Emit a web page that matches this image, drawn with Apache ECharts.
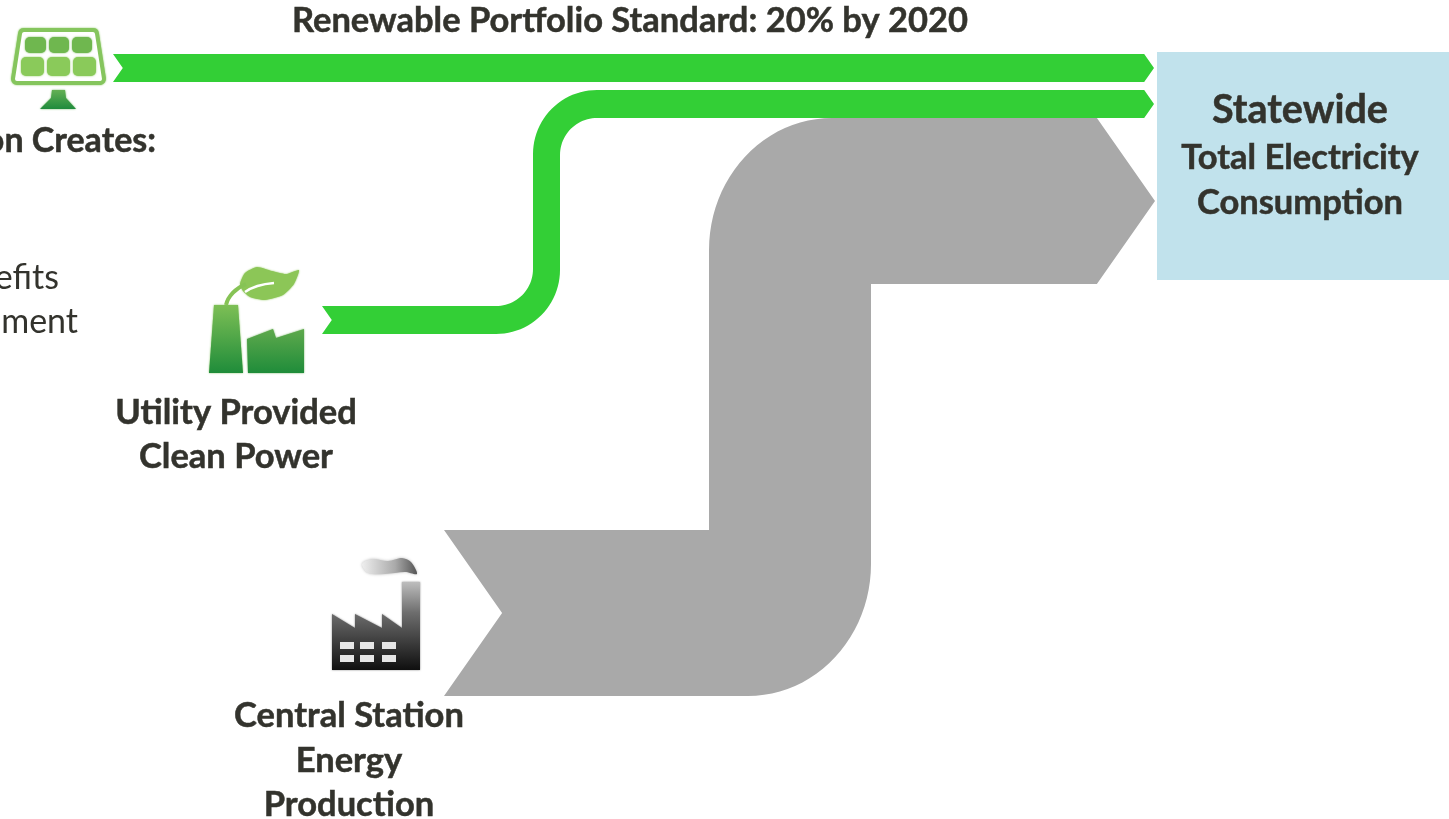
<!DOCTYPE html>
<html>
<head>
<meta charset="utf-8">
<title>Statewide electricity flows</title>
<style>
  html, body { margin: 0; padding: 0; background: #fff; overflow: hidden; }
  #chart { width: 1449px; height: 819px; }
</style>
<script src="https://cdn.jsdelivr.net/npm/echarts@6/dist/echarts.min.js"></script>
</head>
<body>
<div id="chart"></div>
<script>
// 数据
const flowNames = ['Renewable Portfolio Standard', 'Utility Provided Clean Power', 'Central Station Energy Production']
const flowValues = [28, 28, 166]
const targetNames = ['Statewide Total Electricity Consumption']

const titleText = 'Renewable Portfolio Standard: 20% by 2020'
const leftHeading = 'on Creates:'
const leftBody = ['efits', 'ment']
const utilityLines = ['Utility Provided', 'Clean Power']
const centralLines = ['Central Station', 'Energy', 'Production']
const targetLines = ['Statewide', 'Total Electricity', 'Consumption']

// 布局
const FLOW_ROUTES = [
  { sx: 113, sy: 68, ex: 1154, ey: 68 },
  { sx: 322, sy: 320, ex: 1154, ey: 104, tx: 546.5, tw: 27, inner: 37, orx: 64, ory: 64 },
  { sx: 444, sy: 613, ex: 1155, ey: 201, tx: 790, tw: 162, inner: 0, orx: 123, ory: 132 },
]
const FLOW_COLORS = ['#33cf36', '#33cf36', '#a9a9a9']
const TARGET_BOX = { x0: 1157, y0: 52, x1: 1449, y1: 280 }
const TEXT_COLOR = '#33332d'
const FONT = 'Lato'

// 四分之一圆弧取样
function arc(cx, cy, rx, ry, from, to) {
  const pts = []
  if (!rx && !ry) return [[cx, cy]]
  for (let i = 0; i <= 24; i++) {
    const a = (from + (to - from) * i / 24) * Math.PI / 180
    pts.push([cx + rx * Math.cos(a), cy + ry * Math.sin(a)])
  }
  return pts
}

// 流带轮廓（像素单位由坐标轴换算）
function flowOutline(route, w) {
  const head = w * 0.35
  const { sx, sy, ex, ey } = route
  const pts = [[sx, sy - w / 2]]
  if (route.tx !== undefined) {
    const left = route.tx - route.tw / 2
    const right = route.tx + route.tw / 2
    const i = route.inner
    pts.push(...arc(left - i, sy - w / 2 - i, i, i, 90, 0))
    pts.push(...arc(left + route.orx, ey - w / 2 + route.ory, route.orx, route.ory, 180, 270))
    pts.push([ex - head, ey - w / 2], [ex, ey], [ex - head, ey + w / 2])
    pts.push(...arc(right + i, ey + w / 2 + i, i, i, 270, 180))
    pts.push(...arc(right - route.orx, sy + w / 2 - route.ory, route.orx, route.ory, 0, 90))
  } else {
    pts.push([ex - head, ey - w / 2], [ex, ey], [ex - head, ey + w / 2])
  }
  pts.push([sx, sy + w / 2], [sx + head, sy])
  return pts
}

function vgrad(stops) {
  return new echarts.graphic.LinearGradient(0, 0, 0, 1, stops.map((c) => ({ offset: c[0], color: c[1] })))
}

function label(text, x, y, size, weight, align) {
  const bold = weight === 'bold'
  return {
    type: 'text',
    z: 20,
    x,
    y,
    style: {
      text,
      fill: TEXT_COLOR,
      stroke: bold ? TEXT_COLOR : null,
      lineWidth: bold ? 0.5 : 0,
      font: `${weight} ${size}px ${FONT}`,
      textAlign: align || 'center',
      textVerticalAlign: 'middle',
    },
  }
}

// 图标边缘略带模糊
function soft(color) {
  return { shadowBlur: 2, shadowColor: color }
}

function poly(points, fill, glow, smooth) {
  return {
    type: 'polygon',
    z: 10,
    shape: { points, smooth: smooth || 0 },
    style: Object.assign({ fill }, soft(glow)),
  }
}

function cell(x, y, width, height, fill) {
  return {
    type: 'rect',
    z: 12,
    shape: { x, y, width, height, r: 5 },
    style: Object.assign({ fill }, soft(fill)),
  }
}

// 太阳能板图标
function solarIcon() {
  const top = '#6fb74f'
  const bottom = '#8aca5a'
  const frame = [[24, 34], [93, 34], [100, 79], [17, 79]]
  return [
    {
      type: 'polygon',
      z: 10,
      shape: { points: frame },
      style: Object.assign({ fill: '#85c55d', stroke: '#85c55d', lineWidth: 12, lineJoin: 'round' }, soft('#85c55d')),
    },
    {
      type: 'polygon',
      z: 11,
      shape: { points: frame },
      style: { fill: '#fff', stroke: '#fff', lineWidth: 4, lineJoin: 'round' },
    },
    cell(25, 37, 21, 16, top),
    cell(49, 37, 20, 16, top),
    cell(72, 37, 20, 16, top),
    cell(21, 57, 23, 19, bottom),
    cell(47, 57, 23, 19, bottom),
    cell(73, 57, 23, 19, bottom),
    poly([[52, 90], [65, 90], [66, 98], [76, 109], [40, 109], [51, 98]],
      vgrad([[0, '#64b054'], [1, '#1f8b3c']]), '#64b054'),
  ]
}

// 绿色工厂图标
function utilityIcon() {
  return [
    poly([[214, 305], [238, 305], [243, 373], [209, 373]], vgrad([[0, '#7dbf55'], [1, '#1f8c3a']]), '#7dbf55'),
    poly([[247, 339], [273, 329], [276, 338], [304, 329], [304, 373], [248, 373]], vgrad([[0, '#5ea94c'], [1, '#1f8c3a']]), '#5ea94c'),
    poly([[240, 284], [245, 273], [257, 267], [272, 271], [286, 274], [299, 270], [294, 284], [283, 295], [265, 300], [250, 297], [243, 291]],
      '#8cc657', '#8cc657', 0.2),
    {
      type: 'bezierCurve',
      z: 11,
      shape: { x1: 245, y1: 292, cpx1: 252, cpy1: 287, x2: 274, y2: 283, cpx2: 262, cpy2: 284 },
      style: { stroke: '#fff', lineWidth: 2.5, fill: 'none' },
    },
    {
      type: 'bezierCurve',
      z: 10,
      shape: { x1: 226, y1: 305, cpx1: 228, cpy1: 296, x2: 246, y2: 284, cpx2: 236, cpy2: 288 },
      style: { stroke: '#86c355', lineWidth: 4, fill: 'none' },
    },
  ]
}

// 灰色工厂图标
function centralIcon() {
  const windows = []
  ;[642, 655].forEach((y) => {
    ;[340, 360, 382].forEach((x) => {
      windows.push({ type: 'rect', z: 11, shape: { x, y, width: 14, height: 7 }, style: { fill: '#e6e6e6' } })
    })
  })
  const smokePoints = [[362, 564], [372, 559], [388, 561], [402, 558], [411, 562], [417, 574], [405, 572], [385, 574], [368, 573]]
  return [
    poly([[332, 614], [355, 628], [355, 614], [382, 628], [382, 614], [402, 628], [402, 582], [420, 582], [420, 670], [332, 670]],
      vgrad([[0, '#bdbdbd'], [0.35, '#6d6d6d'], [1, '#0f0f0f']]), '#777777'),
    {
      type: 'polygon',
      z: 10,
      shape: { points: smokePoints, smooth: 0.3 },
      style: {
        fill: new echarts.graphic.LinearGradient(0, 0, 1, 0, [
          { offset: 0, color: '#eeeeee' },
          { offset: 0.6, color: '#aaaaaa' },
          { offset: 1, color: '#555555' },
        ]),
        shadowBlur: 3,
        shadowColor: '#bbbbbb',
      },
    },
    ...windows,
  ]
}

function textElements() {
  return [
    label(titleText, 630, 21, 34.5, 'bold'),
    label(leftHeading, 156, 141, 34, 'bold', 'right'),
    label(leftBody[0], 59, 278, 34, 'normal', 'right'),
    label(leftBody[1], 78, 322, 34, 'normal', 'right'),
    label(utilityLines[0], 236, 413, 34.5, 'bold'),
    label(utilityLines[1], 236, 457, 34.5, 'bold'),
    label(centralLines[0], 349, 716, 34.5, 'bold'),
    label(centralLines[1], 349, 761, 34.5, 'bold'),
    label(centralLines[2], 349, 805, 34.5, 'bold'),
    label(targetLines[0], 1300, 110, 39.5, 'bold'),
    label(targetLines[1], 1300, 158, 34.5, 'bold'),
    label(targetLines[2], 1300, 203, 34.5, 'bold'),
  ]
}

const chart = echarts.init(document.getElementById('chart'), null, { renderer: 'canvas' })

chart.setOption({
  animation: false,
  grid: { left: 0, right: 0, top: 0, bottom: 0 },
  xAxis: { type: 'value', min: 0, max: 1449, show: false },
  yAxis: { type: 'value', min: 0, max: 819, inverse: true, show: false },
  graphic: { elements: [...solarIcon(), ...utilityIcon(), ...centralIcon(), ...textElements()] },
  series: [
    {
      name: 'target',
      type: 'custom',
      coordinateSystem: 'cartesian2d',
      data: targetNames.map((name) => ({ name, value: [0] })),
      renderItem(params, api) {
        const a = api.coord([TARGET_BOX.x0, TARGET_BOX.y0])
        const b = api.coord([TARGET_BOX.x1, TARGET_BOX.y1])
        return {
          type: 'rect',
          shape: { x: a[0], y: a[1], width: b[0] - a[0], height: b[1] - a[1] },
          style: { fill: '#c1e2ec' },
        }
      },
    },
    {
      name: 'flows',
      type: 'custom',
      coordinateSystem: 'cartesian2d',
      data: flowNames.map((name, i) => ({ name, value: [i, flowValues[i]] })),
      renderItem(params, api) {
        const i = api.value(0)
        const w = api.size([0, api.value(1)])[1]
        const points = flowOutline(FLOW_ROUTES[i], w).map((p) => api.coord(p))
        return { type: 'polygon', shape: { points }, style: { fill: FLOW_COLORS[i] } }
      },
    },
  ],
})

window.addEventListener('resize', () => chart.resize())
</script>
</body>
</html>
